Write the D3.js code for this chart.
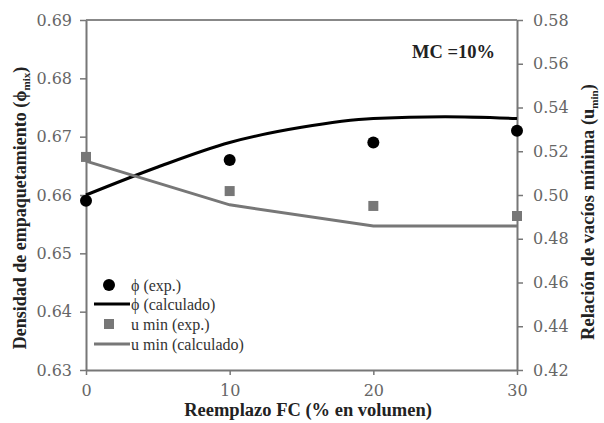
<!DOCTYPE html>
<html><head><meta charset="utf-8">
<script src="https://cdn.jsdelivr.net/npm/d3@7"></script>
<style>body{margin:0;background:#fff}svg{display:block}</style>
</head><body>
<svg id="c" width="604" height="423"></svg>
<script>
const xTicks = [0, 10, 20, 30];
const yLeftTicks = [0.63, 0.64, 0.65, 0.66, 0.67, 0.68, 0.69];
const yRightTicks = [0.42, 0.44, 0.46, 0.48, 0.50, 0.52, 0.54, 0.56, 0.58];

const phiExpX = [0, 10, 20, 30];
const phiExp = [0.659, 0.666, 0.669, 0.671];
const phiCalcX = [0, 5, 10, 15, 20, 25, 30];
const phiCalc = [0.660, 0.6648, 0.6690, 0.6716, 0.6731, 0.6734, 0.6731];
const uExpX = [0, 10, 20, 30];
const uExp = [0.5174, 0.5018, 0.495, 0.4904];
const uCalcX = [0, 10, 20, 30];
const uCalc = [0.5155, 0.4955, 0.4858, 0.4858];

const legendLabels = ["ϕ (exp.)", "ϕ (calculado)", "u min (exp.)", "u min (calculado)"];

const svg = d3.select("#c");
const L = 86, R = 517, T = 20, B = 370;
const x = d3.scaleLinear().domain([0, 30]).range([L, R]);
const yL = d3.scaleLinear().domain([0.63, 0.69]).range([B, T]);
const yR = d3.scaleLinear().domain([0.42, 0.58]).range([B, T]);

const axisColor = "#777";
const tickFont = "DejaVu Serif, serif";

// frame top
svg.append("line").attr("x1", L).attr("x2", R).attr("y1", T).attr("y2", T)
  .attr("stroke", "#888").attr("stroke-width", 2);

function styleAxis(g) {
  g.selectAll("path").attr("stroke", axisColor).attr("stroke-width", 2);
  g.selectAll("line").attr("stroke", axisColor).attr("stroke-width", 1.5);
  g.selectAll("text").attr("fill", "#666").style("font-family", tickFont).style("font-size", "16px");
}

const gx = svg.append("g").attr("transform", `translate(0,${B})`)
  .call(d3.axisBottom(x).tickValues(xTicks).tickFormat(d3.format("d")).tickSizeInner(5).tickSizeOuter(0).tickPadding(10));
styleAxis(gx);

const gl = svg.append("g").attr("transform", `translate(${L},0)`)
  .call(d3.axisLeft(yL).tickValues(yLeftTicks).tickFormat(d3.format(".2f")).tickSizeInner(6).tickSizeOuter(0).tickPadding(8));
styleAxis(gl);

const gr = svg.append("g").attr("transform", `translate(${R},0)`)
  .call(d3.axisRight(yR).tickValues(yRightTicks).tickFormat(d3.format(".2f")).tickSizeInner(6).tickSizeOuter(0).tickPadding(10));
styleAxis(gr);

// lines
const phiLine = d3.line().x(d => x(d[0])).y(d => yL(d[1])).curve(d3.curveMonotoneX);
svg.append("path").datum(phiCalcX.map((v, i) => [v, phiCalc[i]]))
  .attr("d", phiLine).attr("fill", "none").attr("stroke", "#000").attr("stroke-width", 3);

const uLine = d3.line().x(d => x(d[0])).y(d => yR(d[1]));
svg.append("path").datum(uCalcX.map((v, i) => [v, uCalc[i]]))
  .attr("d", uLine).attr("fill", "none").attr("stroke", "#777").attr("stroke-width", 3);

// markers
svg.selectAll("rect.u").data(uExpX.map((v, i) => [v, uExp[i]])).enter().append("rect")
  .attr("x", d => x(d[0]) - 5).attr("y", d => yR(d[1]) - 5).attr("width", 10).attr("height", 10)
  .attr("fill", "#777");
svg.selectAll("circle.p").data(phiExpX.map((v, i) => [v, phiExp[i]])).enter().append("circle")
  .attr("cx", d => x(d[0])).attr("cy", d => yL(d[1])).attr("r", 6).attr("fill", "#000");

// legend
const lg = svg.append("g").style("font-family", "Liberation Serif, serif").style("font-size", "16px").attr("fill", "#333");
const ly = [285, 304, 324, 344];
lg.append("circle").attr("cx", 109).attr("cy", ly[0]).attr("r", 6).attr("fill", "#000");
lg.append("line").attr("x1", 94).attr("x2", 130).attr("y1", ly[1]).attr("y2", ly[1]).attr("stroke", "#000").attr("stroke-width", 3);
lg.append("rect").attr("x", 104).attr("y", ly[2] - 5).attr("width", 10).attr("height", 10).attr("fill", "#777");
lg.append("line").attr("x1", 94).attr("x2", 130).attr("y1", ly[3]).attr("y2", ly[3]).attr("stroke", "#777").attr("stroke-width", 3);
legendLabels.forEach((t, i) => {
  lg.append("text").attr("x", 131).attr("y", ly[i]).attr("dy", "0.35em").text(t);
});

// MC label
svg.append("text").attr("x", 412).attr("y", 58).text("MC =10%")
  .style("font-family", "Liberation Serif, serif").style("font-size", "18.5px").style("font-weight", "bold").attr("fill", "#222");

// axis titles
const titleFont = "Liberation Serif, serif";
svg.append("text").attr("x", 308).attr("y", 416).attr("text-anchor", "middle")
  .style("font-family", titleFont).style("font-size", "18.5px").style("font-weight", "bold").attr("fill", "#222")
  .text("Reemplazo FC (% en volumen)");

const lt = svg.append("text").attr("transform", "translate(26,208) rotate(-90)").attr("text-anchor", "middle")
  .style("font-family", titleFont).style("font-size", "18px").style("font-weight", "bold").attr("fill", "#222");
lt.append("tspan").text("Densidad de empaquetamiento (ϕ");
lt.append("tspan").text("mix").attr("dy", 4).style("font-size", "11px");
lt.append("tspan").text(")").attr("dy", -4);

const rt = svg.append("text").attr("transform", "translate(594,212) rotate(-90)").attr("text-anchor", "middle")
  .style("font-family", titleFont).style("font-size", "18.5px").style("font-weight", "bold").attr("fill", "#222");
rt.append("tspan").text("Relación de vacíos mínima (u");
rt.append("tspan").text("min").attr("dy", 4).style("font-size", "11px");
rt.append("tspan").text(")").attr("dy", -4);
</script>
</body></html>
